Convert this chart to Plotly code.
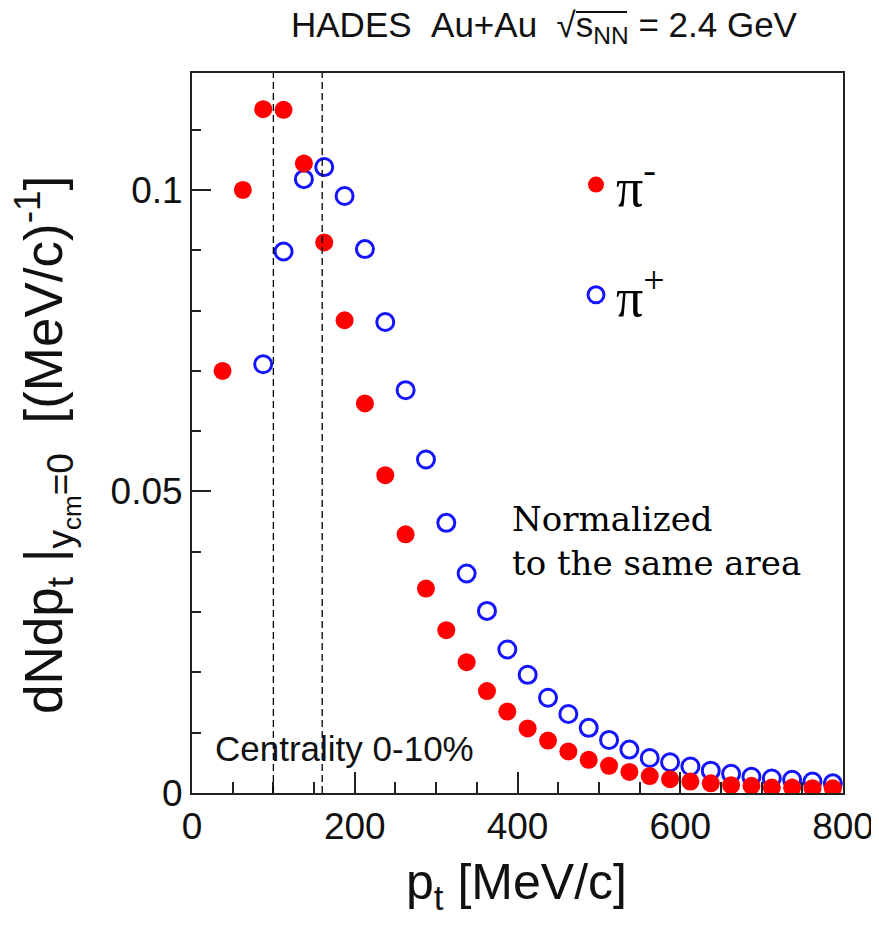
import plotly.graph_objects as go

# ---- data ----
pt_bins = [37.5, 62.5, 87.5, 112.5, 137.5, 162.5, 187.5, 212.5, 237.5, 262.5,
           287.5, 312.5, 337.5, 362.5, 387.5, 412.5, 437.5, 462.5, 487.5, 512.5,
           537.5, 562.5, 587.5, 612.5, 637.5, 662.5, 687.5, 712.5, 737.5, 762.5, 787.5]
pi_minus = [0.0700, 0.1000, 0.1134, 0.1133, 0.1044, 0.0913, 0.0784, 0.0646, 0.0527, 0.0429,
            0.0339, 0.0270, 0.0217, 0.0169, 0.0135, 0.0107, 0.0087, 0.0069, 0.0055, 0.0045,
            0.0035, 0.0028, 0.0023, 0.0019, 0.0016, 0.0013, 0.0012, 0.0009, 0.0009, 0.0008, 0.0008]
pt_bins_plus = pt_bins[2:]
pi_plus = [0.0711, 0.0898, 0.1018, 0.1038, 0.0990, 0.0902, 0.0781, 0.0668, 0.0553, 0.0448,
           0.0364, 0.0302, 0.0238, 0.0196, 0.0158, 0.0131, 0.0108, 0.0088, 0.0072, 0.0058,
           0.0051, 0.0044, 0.0037, 0.0032, 0.0027, 0.0024, 0.0022, 0.0019, 0.0016]
cut_lines = [100, 160]
x_range = [0, 800]
y_range = [0, 0.1194]
x_ticks = [0, 200, 400, 600, 800]
x_ticklabels = ["0", "200", "400", "600", "800"]
y_ticks = [0, 0.05, 0.1]
y_ticklabels = ["0", "0.05", "0.1"]

SANS = "Liberation Sans, Arial, sans-serif"

# the page body adds an 8px offset; plot area in window pixels is 192..843 x 73..793
OFF = 8
L, R, T, B = 192, 843, 73, 793
W, H = 879 - OFF, 927 - OFF
def px(x):
    return (x - L) / (R - L)
def py(y):
    return (B - y) / (B - T)

fig = go.Figure()
fig.add_trace(go.Scatter(
    x=pt_bins_plus, y=pi_plus, mode="markers", name="π<sup>+</sup>",
    legendgroup="b", legendrank=2,
    marker=dict(symbol="circle-open", size=17, color="#1414ff", line=dict(width=3, color="#1414ff")),
))
fig.add_trace(go.Scatter(
    x=pt_bins, y=pi_minus, mode="markers", name="π<sup>-</sup>",
    legendgroup="a", legendrank=1,
    marker=dict(symbol="circle", size=18, color="#ff0000"),
))

for xv in cut_lines:
    fig.add_shape(type="line", xref="x", yref="y", x0=xv, x1=xv, y0=y_range[0], y1=y_range[1],
                  line=dict(color="black", width=1.3, dash="7px,4px"))

axis_common = dict(showgrid=False, zeroline=False, showline=True, linecolor="#222", linewidth=2,
                   mirror=True, ticks="inside", tickcolor="#222", tickwidth=2, automargin=False,
                   tickfont=dict(family=SANS, size=37, color="#111"))
fig.update_xaxes(range=x_range, tickvals=x_ticks, ticktext=x_ticklabels, ticklen=21,
                 minor=dict(dtick=50, tick0=0, ticks="inside", ticklen=11, tickwidth=2, tickcolor="#222"),
                 **axis_common)
fig.update_yaxes(range=y_range, tickvals=y_ticks, ticktext=y_ticklabels, ticklen=19,
                 minor=dict(dtick=0.01, tick0=0, ticks="inside", ticklen=9, tickwidth=2, tickcolor="#222"),
                 **axis_common)

NB = "\u00a0"
fig.add_annotation(xref="paper", yref="paper", x=px(289), y=py(27), xanchor="left", yanchor="middle",
                   showarrow=False,
                   text=f"HADES{NB}{NB}Au+Au{NB}{NB}√s<sub>NN</sub>{NB}={NB}2.4{NB}GeV",
                   font=dict(family=SANS, size=35, color="#111"))
# overline of the square root
fig.add_shape(type="line", xref="paper", yref="paper", x0=px(576), x1=px(627), y0=py(12), y1=py(12),
              line=dict(color="#111", width=2))
fig.add_annotation(xref="paper", yref="paper", x=px(47), y=py(445), xanchor="center", yanchor="middle",
                   showarrow=False, textangle=-90,
                   text=f"dNdp<sub>t</sub>{NB}|<sub>y<sub>cm</sub>=0</sub>{NB}{NB}[(MeV/c)<sup>-1</sup>]",
                   font=dict(family=SANS, size=53, color="#111"))
fig.add_annotation(xref="paper", yref="paper", x=px(516), y=py(885), xanchor="center", yanchor="middle",
                   showarrow=False, text=f"p<sub>t</sub>{NB}[MeV/c]",
                   font=dict(family=SANS, size=50, color="#111"))
fig.add_annotation(xref="paper", yref="paper", x=px(510), y=py(497), xanchor="left", yanchor="top",
                   showarrow=False, align="left", text="Normalized<br>to the same area",
                   font=dict(family="DejaVu Serif, serif", size=34, color="black"))
fig.add_annotation(xref="paper", yref="paper", x=px(213), y=py(748), xanchor="left", yanchor="middle",
                   showarrow=False, text="Centrality 0-10%",
                   font=dict(family=SANS, size=35, color="#111"))

fig.update_layout(
    width=W, height=H,
    margin=dict(l=L - OFF, r=W - (R - OFF), t=T - OFF, b=H - (B - OFF)),
    paper_bgcolor="white", plot_bgcolor="white",
    showlegend=True,
    legend=dict(x=px(576), y=py(143), xanchor="left", yanchor="top", bgcolor="rgba(0,0,0,0)",
                font=dict(family="Liberation Serif, Times New Roman, serif", size=54, color="black"),
                tracegroupgap=37, traceorder="grouped"),
)

fig.write_html("out.html")
